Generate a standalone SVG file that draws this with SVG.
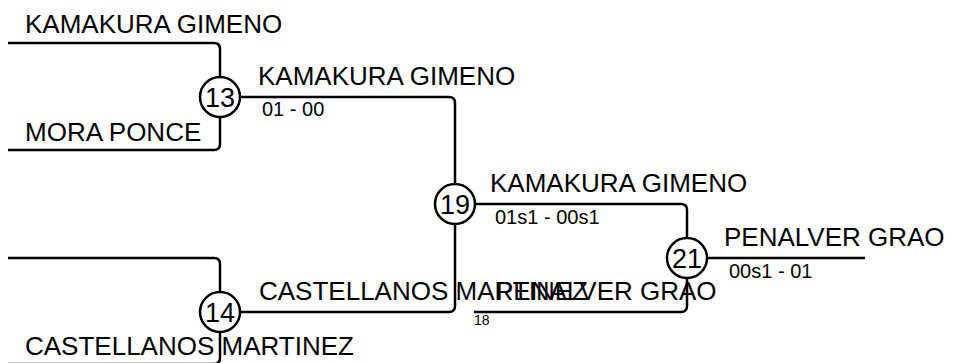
<svg xmlns="http://www.w3.org/2000/svg" width="965" height="363" viewBox="0 0 965 363">
<style>
.ln{fill:none;stroke:#000;stroke-width:2.5}
.nd{fill:#fff;stroke:#000;stroke-width:2.5}
.num{font-family:"Liberation Sans",Arial,sans-serif;font-size:27px;text-anchor:middle;fill:#000}
.nm{font-family:"Liberation Sans",Arial,sans-serif;font-size:26px;fill:#000}
.sc{font-family:"Liberation Sans",Arial,sans-serif;font-size:20px;fill:#000}
.sm{font-family:"Liberation Sans",Arial,sans-serif;font-size:14px;fill:#000}
</style>
<rect width="965" height="363" fill="#fff"/>
<g id="connectors">
<path class="ln" d="M8,43 H214 Q220,43 220,49 V77"/>
<path class="ln" d="M8,150 H214 Q220,150 220,144 V117"/>
<path class="ln" d="M240,97 H449 Q455,97 455,103 V184"/>
<path class="ln" d="M8,258 H214 Q220,258 220,264 V292"/>
<path class="ln" d="M220,332 V358 Q220,364 214,364 H8"/>
<path class="ln" d="M240,312 H449 Q455,312 455,306 V224"/>
<path class="ln" d="M475,204 H681 Q687,204 687,210 V238"/>
<path class="ln" d="M474,312 H681 Q687,312 687,306 V278"/>
<path class="ln" d="M707,258 H865"/>
</g>
<g id="labels">
<text class="nm" x="25" y="33">KAMAKURA GIMENO</text>
<text class="nm" x="25" y="141">MORA PONCE</text>
<text class="nm" x="258" y="85">KAMAKURA GIMENO</text>
<text class="sc" x="262" y="116">01 - 00</text>
<text class="nm" x="490" y="192">KAMAKURA GIMENO</text>
<text class="sc" x="495" y="224">01s1 - 00s1</text>
<text class="nm" x="724" y="246">PENALVER GRAO</text>
<text class="sc" x="729" y="278">00s1 - 01</text>
<text class="nm" x="259" y="300">CASTELLANOS MARTINEZ</text>
<text class="nm" x="496" y="300">PENALVER GRAO</text>
<text class="sm" x="474" y="325">18</text>
<text class="nm" x="25" y="355">CASTELLANOS MARTINEZ</text>
</g>
<g id="node-13"><circle class="nd" cx="220" cy="97" r="20"/><text class="num" x="220" y="107">13</text></g>
<g id="node-14"><circle class="nd" cx="220" cy="312" r="20"/><text class="num" x="220" y="322">14</text></g>
<g id="node-19"><circle class="nd" cx="455" cy="204" r="20"/><text class="num" x="455" y="214">19</text></g>
<g id="node-21"><circle class="nd" cx="687" cy="258" r="20"/><text class="num" x="687" y="268">21</text></g>
</svg>
